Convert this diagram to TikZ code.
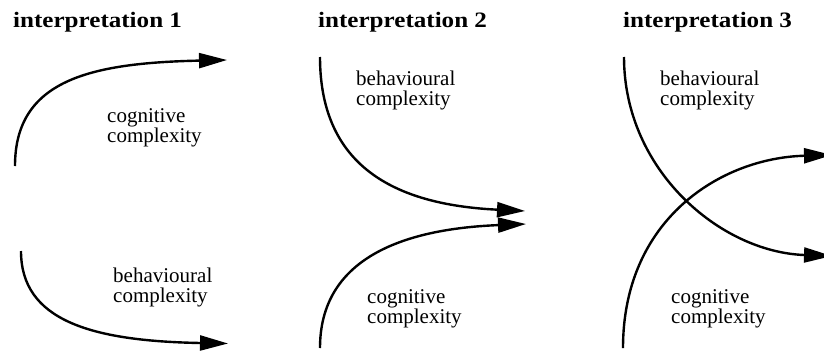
\documentclass[tikz,border=0pt]{standalone}
\usepackage{fontspec}
\setmainfont{Liberation Serif}
\newfontfamily\ttlfont{Liberation Serif}[FakeStretch=1.14]
\usetikzlibrary{arrows.meta}
\begin{document}
\begin{tikzpicture}[x=1pt,y=-1pt,
  curve/.style={line width=2.4pt,-{Triangle[length=28pt,width=15pt]}},
  ttl/.style={anchor=base west,inner sep=0pt,font=\ttlfont\fontsize{22}{24}\selectfont\bfseries},
  lbl/.style={anchor=base west,inner sep=0pt,align=left,font=\fontsize{21}{19.5}\selectfont}]
\useasboundingbox (0,0) rectangle (824,351);
% titles
\node[ttl] (t1) at (13,27) {interpretation 1};
\node[ttl] (t2) at (318,27) {interpretation 2};
\node[ttl] (t3) at (623,27) {interpretation 3};
% panel 1
\coordinate (a1) at (15,166);
\coordinate (a2) at (227,60);
\draw[curve] (a1) .. controls (15,80) and (90,63) .. (a2);
\node[lbl] (l1) at (107,142) {cognitive\\complexity};
\coordinate (b1) at (21,251);
\coordinate (b2) at (228,343.5);
\draw[curve] (b1) .. controls (21,320) and (90,341) .. (b2);
\node[lbl] (l2) at (113,302) {behavioural\\complexity};
% panel 2
\coordinate (c1) at (320,57);
\coordinate (c2) at (525,211);
\draw[curve] (c1) .. controls (320,170) and (400,205) .. (c2);
\node[lbl] (l3) at (356,105) {behavioural\\complexity};
\coordinate (d1) at (320,348);
\coordinate (d2) at (526,224);
\draw[curve] (d1) .. controls (320,260) and (400,229) .. (d2);
\node[lbl] (l4) at (367,323) {cognitive\\complexity};
% panel 3
\coordinate (e1) at (624,57);
\coordinate (e2) at (832,256);
\draw[curve] (e1) .. controls (624,170) and (720,252) .. (e2);
\node[lbl] (l5) at (660,105) {behavioural\\complexity};
\coordinate (f1) at (623,348);
\coordinate (f2) at (832,155);
\draw[curve] (f1) .. controls (623,220) and (720,158) .. (f2);
\node[lbl] (l6) at (671,323) {cognitive\\complexity};
\end{tikzpicture}
\end{document}
